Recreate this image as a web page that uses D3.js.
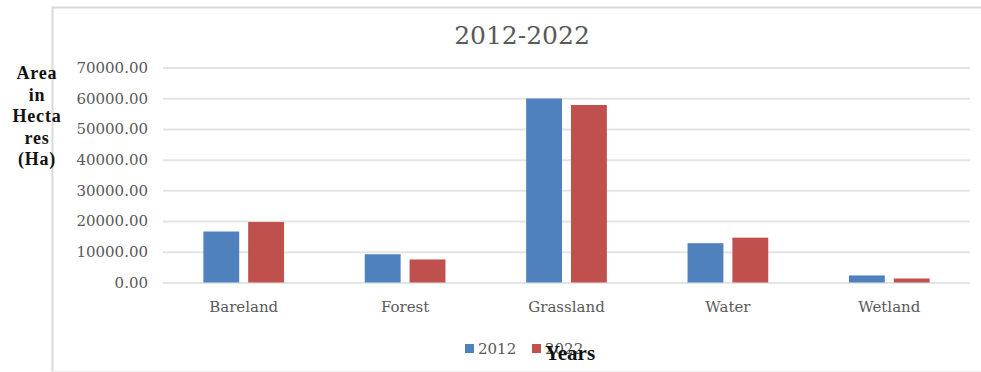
<!DOCTYPE html>
<html>
<head>
  <style>
    body { margin: 0; background: #fff; }
    svg text { font-family: "DejaVu Serif", "Liberation Serif", serif; }
  </style>
</head>
<body>
  <div id="chart"></div>
  <script src="https://cdnjs.cloudflare.com/ajax/libs/d3/7.8.5/d3.min.js"></script>
  <script>
    // data
    const categories = ["Bareland", "Forest", "Grassland", "Water", "Wetland"];
    const years = ["2012", "2022"];
    const values2012 = [16600, 9200, 59900, 12800, 2300];
    const values2022 = [19700, 7500, 57800, 14600, 1300];
    const yTicks = [0, 10000, 20000, 30000, 40000, 50000, 60000, 70000];
    const colors = ["#4f81bd", "#c0504d"];

    const width = 981, height = 372;
    const plot = { left: 163, right: 970, top: 67.5, bottom: 282.5 };

    const svg = d3.select("#chart").append("svg")
      .attr("width", width).attr("height", height);

    // outer frame
    svg.append("path")
      .attr("d", `M52.5,${height} V7.5 H${width}`)
      .attr("fill", "none").attr("stroke", "#d9d9d9").attr("stroke-width", 2);
    svg.append("line")
      .attr("x1", 52).attr("x2", width).attr("y1", 371.5).attr("y2", 371.5)
      .attr("stroke", "#f0f0f0");

    const x = d3.scaleBand().domain(categories).range([plot.left, plot.right]);
    const x1 = d3.scaleBand().domain(years).range([0, x.bandwidth()])
      .paddingInner(0.2).paddingOuter(0.9);
    const y = d3.scaleLinear().domain([0, 70000]).range([plot.bottom, plot.top]);

    // gridlines + y labels
    const yAxis = svg.append("g")
      .attr("transform", `translate(${plot.left},0)`)
      .call(d3.axisLeft(y).tickValues(yTicks).tickSize(-(plot.right - plot.left))
        .tickPadding(15).tickFormat(d => d3.format(".2f")(d)));
    yAxis.select(".domain").remove();
    yAxis.selectAll(".tick line").attr("stroke", "#e4e4e4").attr("stroke-width", 2);
    yAxis.selectAll(".tick text")
      .attr("fill", "#595959")
      .style("font-size", "15px")
      .style("font-family", "'DejaVu Serif', serif");

    // bars
    const series = [values2012, values2022];
    const groups = svg.append("g").selectAll("g")
      .data(categories).join("g")
      .attr("transform", d => `translate(${x(d)},0)`);
    groups.selectAll("rect")
      .data((d, i) => years.map((yr, k) => ({ yr, v: series[k][i], k })))
      .join("rect")
      .attr("x", d => x1(d.yr))
      .attr("width", x1.bandwidth())
      .attr("y", d => y(d.v))
      .attr("height", d => y(0) - y(d.v))
      .attr("fill", d => colors[d.k]);

    // category labels
    svg.append("g").selectAll("text")
      .data(categories).join("text")
      .attr("x", d => x(d) + x.bandwidth() / 2)
      .attr("y", 312)
      .attr("text-anchor", "middle")
      .attr("fill", "#595959").attr("font-size", 15)
      .text(d => d);

    // title
    svg.append("text")
      .attr("x", 522).attr("y", 44)
      .attr("text-anchor", "middle")
      .attr("fill", "#595959").attr("font-size", 25)
      .text("2012-2022");

    // y axis title
    const yTitle = ["Area", "in", "Hecta", "res", "(Ha)"];
    svg.append("g").selectAll("text")
      .data(yTitle).join("text")
      .attr("x", 37)
      .attr("y", (d, i) => 79 + i * 21.5)
      .attr("text-anchor", "middle")
      .attr("font-weight", "bold")
      .attr("fill", "#111")
      .style("font-family", "'Liberation Serif', serif")
      .style("font-size", "18px")
      .style("letter-spacing", "0.8px")
      .text(d => d);

    // legend
    const legend = svg.append("g").attr("transform", "translate(465,349)");
    years.forEach((yr, i) => {
      legend.append("rect")
        .attr("x", i * 67).attr("y", -5).attr("width", 9).attr("height", 9)
        .attr("fill", colors[i]);
      legend.append("text")
        .attr("x", i * 67 + 13).attr("y", 5)
        .attr("fill", "#595959").attr("font-size", 15)
        .text(yr);
    });

    // x axis title, overlapping the legend as in the source
    svg.append("text")
      .attr("x", 570).attr("y", 360)
      .attr("text-anchor", "middle")
      .attr("font-weight", "bold")
      .attr("fill", "#111")
      .style("font-family", "'Liberation Serif', serif")
      .style("font-size", "21px")
      .text("Years");
  </script>
</body>
</html>
